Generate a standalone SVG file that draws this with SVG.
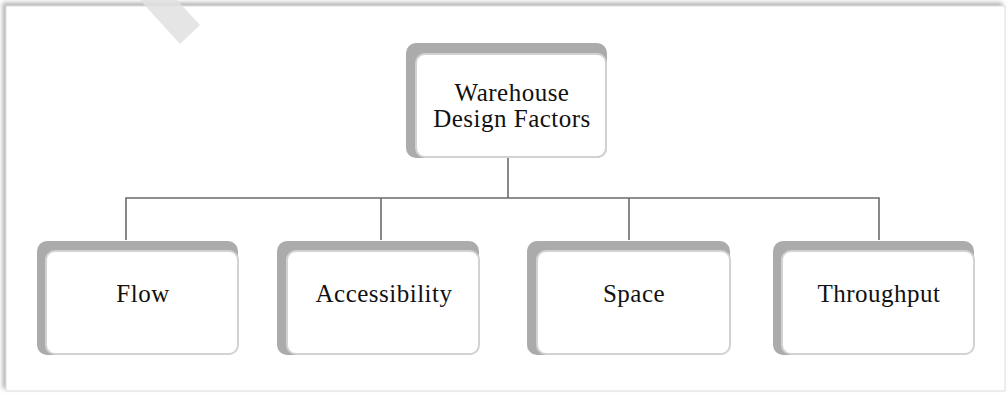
<svg xmlns="http://www.w3.org/2000/svg" width="1008" height="394" viewBox="0 0 1008 394">
<defs>
<filter id="fs" x="-5%" y="-5%" width="110%" height="110%">
<feDropShadow dx="-3" dy="-3" stdDeviation="2" flood-color="#777" flood-opacity="0.55"/>
</filter>
<style>
.back{fill:#ababab;}
.front{fill:#fff;stroke:#d2d2d2;stroke-width:2;}
.lbl{font-family:"Liberation Serif","Times New Roman",serif;font-size:25px;letter-spacing:0.5px;fill:#111;text-anchor:middle;}
.conn{fill:none;stroke:#6b6b6b;stroke-width:1.6;}
</style>
</defs>
<rect width="1008" height="394" fill="#fff"/>
<rect x="6" y="6" width="999" height="385" fill="#fff" stroke="#dcdcdc" stroke-width="1" filter="url(#fs)"/>
<polygon points="140,0 177,0 200,25 180,44" fill="#e0e0e0" fill-opacity="0.85"/>
<g id="connectors">
<path class="conn" d="M508 158 V198 M126 240 V198 H879 V240 M381 198 V240 M629 198 V240"/>
</g>
<g id="node-root">
<rect class="back" x="406" y="43" width="201" height="115" rx="10"/>
<rect class="front" x="416" y="54" width="190" height="103" rx="9"/>
<text class="lbl" x="512" y="101">Warehouse</text>
<text class="lbl" x="512" y="127">Design Factors</text>
</g>
<g id="node-flow">
<rect class="back" x="37" y="241" width="201" height="114" rx="10"/>
<rect class="front" x="46" y="251" width="192" height="103" rx="9"/>
<text class="lbl" x="143" y="302">Flow</text>
</g>
<g id="node-accessibility">
<rect class="back" x="277" y="241" width="202" height="114" rx="10"/>
<rect class="front" x="287" y="251" width="192" height="103" rx="9"/>
<text class="lbl" x="384" y="302">Accessibility</text>
</g>
<g id="node-space">
<rect class="back" x="527" y="241" width="203" height="114" rx="10"/>
<rect class="front" x="537" y="251" width="193" height="103" rx="9"/>
<text class="lbl" x="634" y="302">Space</text>
</g>
<g id="node-throughput">
<rect class="back" x="773" y="241" width="201" height="114" rx="10"/>
<rect class="front" x="782" y="251" width="192" height="103" rx="9"/>
<text class="lbl" x="879" y="302">Throughput</text>
</g>
</svg>
